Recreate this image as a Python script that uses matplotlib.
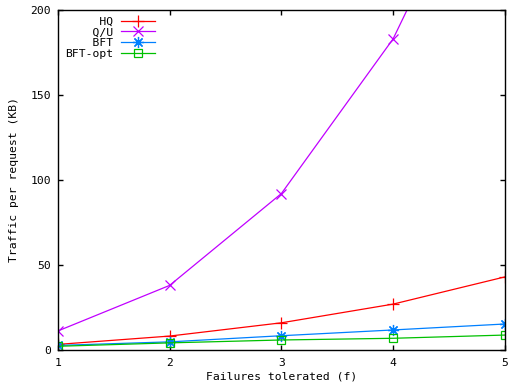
import matplotlib
matplotlib.use("Agg")
import matplotlib.pyplot as plt

# values (KB per request vs. failures tolerated)
failures = [1, 2, 3, 4, 5]
hq = [3.3, 8.2, 16.0, 27.0, 43.0]
qu = [11.2, 38.0, 92.0, 183.0, 319.0]
bft = [2.7, 4.8, 8.4, 11.8, 15.3]
bft_opt = [2.2, 4.2, 5.9, 6.9, 8.8]

series = [
    ("HQ", hq, "#ff0000", "+", 8),
    ("Q/U", qu, "#c000ff", "x", 6.5),
    ("BFT", bft, "#0080ff", (8, 2, 0), 8),
    ("BFT-opt", bft_opt, "#00c000", "s", 6),
]

plt.rcParams.update(
    {
        "font.family": "DejaVu Sans Mono",
        "font.size": 8.2,
        "axes.linewidth": 1.0,
        "xtick.direction": "in",
        "ytick.direction": "in",
        "xtick.top": True,
        "ytick.right": True,
        "xtick.major.size": 3.6,
        "ytick.major.size": 3.6,
        "xtick.major.width": 1.0,
        "ytick.major.width": 1.0,
    }
)

fig = plt.figure(figsize=(5.12, 3.84), dpi=100)
ax = fig.add_axes([0.113, 0.0885, 0.873, 0.8855])

width = max(len(s[0]) for s in series)
for name, vals, color, marker, ms in series:
    ax.plot(
        failures,
        vals,
        color=color,
        lw=0.9,
        marker=marker,
        ms=ms,
        mew=0.9,
        mfc="none",
        label=name.rjust(width),
    )

ax.set_xlim(1, 5)
ax.set_ylim(0, 200)
ax.set_xticks(failures)
ax.set_yticks([0, 50, 100, 150, 200])
ax.tick_params(axis="x", pad=5.5)
ax.tick_params(axis="y", pad=5)
ax.set_xlabel("Failures tolerated (f)", labelpad=3)
ax.set_ylabel("Traffic per request (KB)", labelpad=8)

ax.legend(
    loc="upper left",
    frameon=False,
    markerfirst=False,
    handlelength=3.0,
    handletextpad=0.7,
    labelspacing=0.05,
    borderaxespad=0.2,
    bbox_to_anchor=(0.0, 1.0),
)

fig.savefig("out.png", dpi=100)
